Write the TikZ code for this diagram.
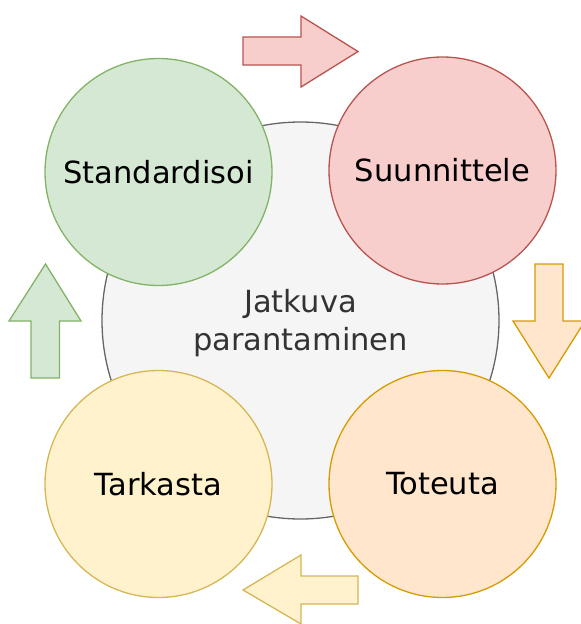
\documentclass[tikz,border=0pt]{standalone}
\usepackage{fontspec}
\setmainfont{DejaVu Sans}
\definecolor{gfill}{HTML}{D5E8D4}\definecolor{gline}{HTML}{82B366}
\definecolor{rfill}{HTML}{F8CECC}\definecolor{rline}{HTML}{B85450}
\definecolor{ofill}{HTML}{FFE6CC}\definecolor{oline}{HTML}{D79B00}
\definecolor{yfill}{HTML}{FFF2CC}\definecolor{yline}{HTML}{D6B656}
\definecolor{cfill}{HTML}{F5F5F5}\definecolor{cline}{HTML}{666666}
\definecolor{ctext}{HTML}{333333}
\begin{document}
\begin{tikzpicture}[x=1pt,y=-1pt,line width=1.3pt,line join=miter,
  phase/.style={circle,draw,minimum size=227pt,inner sep=0pt,font=\fontsize{30.5}{37}\selectfont},
  core/.style={circle,draw=cline,fill=cfill,minimum size=397pt,inner sep=0pt,text=ctext,align=center,font=\fontsize{30.5}{38.5}\selectfont}]
\useasboundingbox (0,0) rectangle (581,624);
\node[core] (core) at (300.5,320.5) {};
\node[text=ctext,align=center,font=\fontsize{30.5}{38.5}\selectfont] (corelabel) at (300.5,323) {Jatkuva\\parantaminen};
\node[phase,fill=gfill,draw=gline] (std) at (158.5,172) {Standardisoi};
\node[phase,fill=rfill,draw=rline] (plan) at (442.5,170.5) {Suunnittele};
\node[phase,fill=yfill,draw=yline] (check) at (158.5,484) {Tarkasta};
\node[phase,fill=ofill,draw=oline] (do) at (442.5,484) {Toteuta};
% arrows
\draw[fill=rfill,draw=rline] (243,37) -- (301,37) -- (301,16) -- (358,51.5) -- (301,87) -- (301,65) -- (243,65) -- cycle;
\draw[fill=ofill,draw=oline] (535,264) -- (563,264) -- (563,321) -- (585,321) -- (549,378) -- (513,321) -- (535,321) -- cycle;
\draw[fill=yfill,draw=yline] (358,576) -- (301,576) -- (301,555) -- (243,590) -- (301,624) -- (301,604) -- (358,604) -- cycle;
\draw[fill=gfill,draw=gline] (31,378) -- (59.5,378) -- (59.5,321) -- (81,321) -- (45.5,264) -- (9,321) -- (31,321) -- cycle;
\end{tikzpicture}
\end{document}
